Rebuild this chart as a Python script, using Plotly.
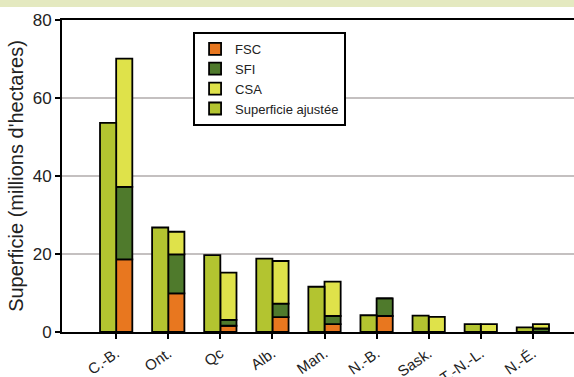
import plotly.graph_objects as go
import numpy as np

categories = ["C.-B.", "Ont.", "Qc", "Alb.", "Man.", "N.-B.", "Sask.", "T.-N.-L.", "N.-É."]
adjusted = [53.6, 26.8, 19.7, 18.8, 11.6, 4.3, 4.2, 2.0, 1.2]
fsc = [18.6, 9.9, 1.6, 3.8, 2.0, 4.1, 0.0, 0.0, 0.0]
sfi = [18.6, 10.0, 1.5, 3.5, 2.1, 4.5, 0.0, 0.0, 0.9]
csa = [32.9, 5.8, 12.1, 10.9, 8.8, 0.0, 3.9, 2.0, 1.1]
y_ticks = [0, 20, 40, 60, 80]

c_fsc = "#e8771f"
c_sfi = "#4f7a2c"
c_csa = "#dfe24a"
c_adj = "#b3c430"

fsc_a = np.array(fsc)
sfi_a = np.array(sfi)
csa_a = np.array(csa)

W = 0.31
line = dict(color="black", width=1.8)

fig = go.Figure()
fig.add_trace(go.Bar(name="FSC", x=categories, y=fsc, base=[0]*len(fsc),
                     width=W, offset=0, marker=dict(color=c_fsc, line=line)))
fig.add_trace(go.Bar(name="SFI", x=categories, y=sfi, base=list(fsc_a),
                     width=W, offset=0, marker=dict(color=c_sfi, line=line)))
fig.add_trace(go.Bar(name="CSA", x=categories, y=csa, base=list(fsc_a + sfi_a),
                     width=W, offset=0, marker=dict(color=c_csa, line=line)))
fig.add_trace(go.Bar(name="Superficie ajustée", x=categories, y=adjusted, base=[0]*len(adjusted),
                     width=W, offset=-W, marker=dict(color=c_adj, line=line)))

font = "Liberation Sans, Arial, sans-serif"

fig.update_layout(
    width=574, height=377,
    margin=dict(l=62, r=0, t=20, b=45),
    barmode="overlay",
    paper_bgcolor="white",
    plot_bgcolor="white",
    font=dict(family=font, color="#222222"),
    showlegend=True,
    legend=dict(
        x=0.256, y=0.962, xanchor="left", yanchor="top",
        traceorder="normal",
        bordercolor="black", borderwidth=2,
        bgcolor="white",
        font=dict(size=13, family=font, color="#222"),
        itemwidth=30,
        tracegroupgap=0,
    ),
    xaxis=dict(
        range=[-1.04, 8.79],
        automargin=False,
        showline=True, linecolor="black", linewidth=2, mirror=True,
        ticks="outside", ticklen=5, tickcolor="black", tickwidth=2,
        tickangle=-35,
        tickfont=dict(size=15, family=font, color="#222"),
        showgrid=False,
    ),
    yaxis=dict(
        range=[0, 80],
        automargin=False,
        tickvals=y_ticks,
        showline=True, linecolor="black", linewidth=2,
        ticks="outside", ticklen=5, tickcolor="black", tickwidth=2,
        tickfont=dict(size=17, family=font, color="#222"),
        showgrid=True, gridcolor="#c4c0c0", gridwidth=2,
        zeroline=False,
        title=dict(text="Superficie (millions d'hectares)", font=dict(size=20, family=font, color="#222"), standoff=4),
    ),
    shapes=[dict(type="rect", xref="paper", yref="paper",
                 x0=-0.2, x1=1.0, y0=1 + 13/312, y1=1 + 20/312,
                 fillcolor="#e4e9c0", line=dict(width=0), layer="above")],
)

fig.write_html("out.html", config={"displayModeBar": False},
               post_script="document.body.style.margin='0';document.body.style.overflow='hidden';")
